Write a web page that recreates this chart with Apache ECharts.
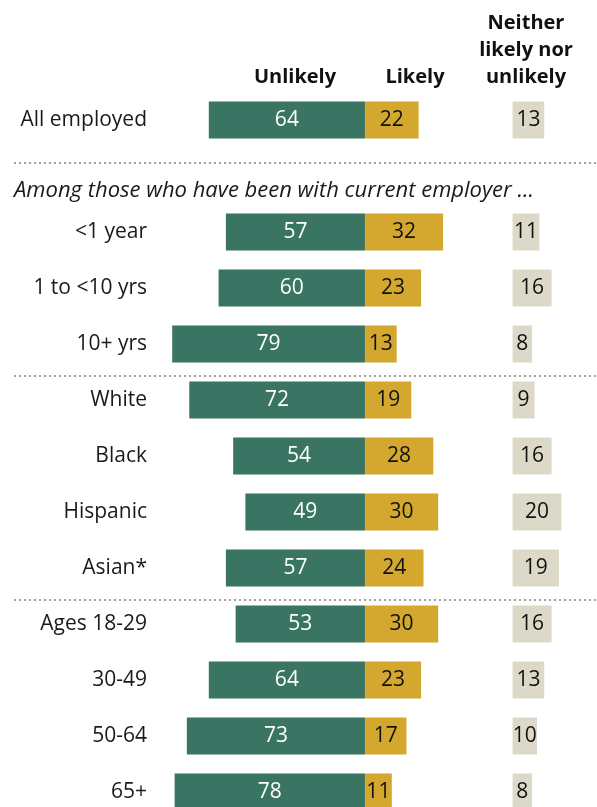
<!DOCTYPE html>
<html>
<head>
<meta charset="utf-8">
<script src="https://cdn.jsdelivr.net/npm/echarts@6/dist/echarts.min.js"></script>
<style>
html,body{margin:0;padding:0;background:#fff;}
#chart{width:597px;height:807px;}
</style>
</head>
<body>
<div id="chart"></div>
<script>
const categories = ['All employed', '', '<1 year', '1 to <10 yrs', '10+ yrs', 'White', 'Black', 'Hispanic', 'Asian*', 'Ages 18-29', '30-49', '50-64', '65+'];
const unlikely = [64, null, 57, 60, 79, 72, 54, 49, 57, 53, 64, 73, 78];
const likely = [22, null, 32, 23, 13, 19, 28, 30, 24, 30, 23, 17, 11];
const neither = [13, null, 11, 16, 8, 9, 16, 20, 19, 16, 13, 10, 8];
const headers = ['Unlikely', 'Likely', 'Neither\nlikely nor\nunlikely'];
const subhead = 'Among those who have been with current employer ...';

const NEITHER_OFFSET = 60.5;
const FONT = '"Open Sans", "Liberation Sans", sans-serif';

const chart = echarts.init(document.getElementById('chart'), null, {renderer: 'canvas'});

const labelBase = {show: true, position: 'inside', fontSize: 21, fontFamily: FONT, color: '#111'};

function dotted(y) {
  return {
    type: 'line', silent: true,
    shape: {x1: 14, y1: y, x2: 597, y2: y},
    style: {stroke: '#a0a0a0', lineWidth: 2, lineDash: [2, 3]}
  };
}

const barCommon = {type: 'bar', barWidth: 37, barGap: '-100%', clip: false};

chart.setOption({
  animation: false,
  grid: {left: 160, right: 0, top: 120, bottom: 15, containLabel: false},
  xAxis: {type: 'value', min: -84, max: 95.1, show: false},
  yAxis: {
    type: 'category', inverse: true, data: categories, boundaryGap: false,
    axisLine: {show: false}, axisTick: {show: false}, splitLine: {show: false},
    axisLabel: {fontSize: 21, fontFamily: FONT, color: '#1a1a1a', margin: 13}
  },
  series: [
    Object.assign({}, barCommon, {
      name: 'Unlikely', stack: 'main',
      data: unlikely.map(v => v == null ? '-' : -v),
      itemStyle: {color: '#3a7563'},
      label: Object.assign({}, labelBase, {color: '#fff', formatter: p => Math.abs(p.value)})
    }),
    Object.assign({}, barCommon, {
      name: 'Likely', stack: 'main',
      data: likely.map(v => v == null ? '-' : v),
      itemStyle: {color: '#d4a82f'},
      label: labelBase
    }),
    Object.assign({}, barCommon, {
      name: 'base', stack: 'n', silent: true,
      data: neither.map(v => v == null ? '-' : NEITHER_OFFSET),
      itemStyle: {color: 'rgba(0,0,0,0)'},
      label: {show: false}
    }),
    Object.assign({}, barCommon, {
      name: 'Neither likely nor unlikely', stack: 'n',
      data: neither.map(v => v == null ? '-' : v),
      itemStyle: {color: '#dcd9c8'},
      label: labelBase
    })
  ],
  graphic: [
    {type: 'text', silent: true, style: {text: headers[0], x: 295, y: 77, textAlign: 'center', textVerticalAlign: 'middle', font: 'bold 20px ' + FONT, fill: '#111'}},
    {type: 'text', silent: true, style: {text: headers[1], x: 415, y: 77, textAlign: 'center', textVerticalAlign: 'middle', font: 'bold 20px ' + FONT, fill: '#111'}},
    {type: 'text', silent: true, style: {text: headers[2], x: 526, y: 50, textAlign: 'center', textVerticalAlign: 'middle', font: 'bold 20px ' + FONT, lineHeight: 27, fill: '#111'}},
    {type: 'text', silent: true, style: {text: subhead, x: 14, y: 191, textAlign: 'left', textVerticalAlign: 'middle', font: 'italic 22px ' + FONT, fill: '#1a1a1a'}},
    dotted(163), dotted(376), dotted(600)
  ]
});
</script>
</body>
</html>
